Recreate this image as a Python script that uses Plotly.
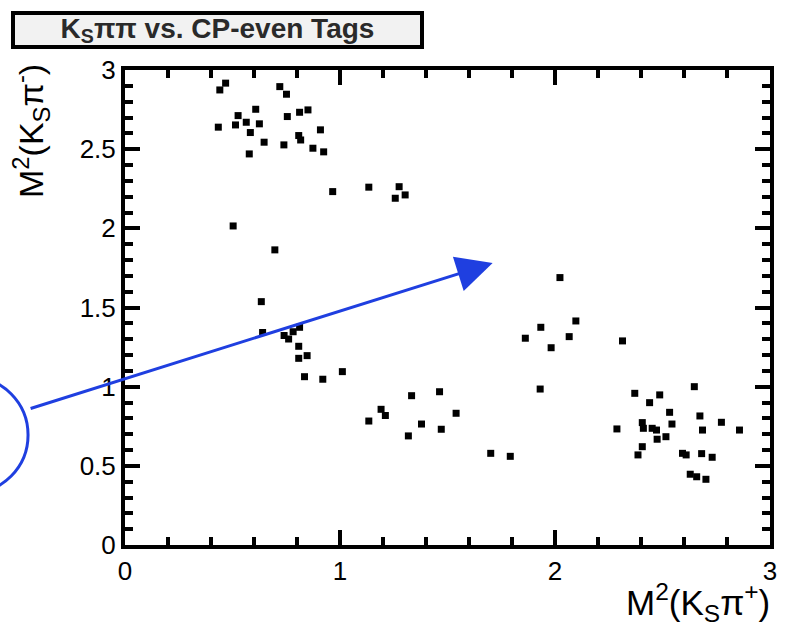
import plotly.graph_objects as go

# Dalitz-plot events: M^2(Ks pi+) vs M^2(Ks pi-) in GeV^2
m2_kspip = [0.468, 0.441, 0.720, 0.751, 0.608, 0.526, 0.514, 0.564, 0.625, 0.434,
            0.583, 0.647, 0.578, 0.739, 0.755, 0.812, 0.851, 0.808, 0.817, 0.909,
            0.874, 0.924, 0.966, 1.134, 1.275, 1.257, 1.303, 0.503, 0.697, 0.634,
            0.640, 0.740, 0.761, 0.812, 0.782, 0.808, 0.808, 0.847, 0.835, 0.920,
            1.011, 1.333, 1.463, 1.191, 1.211, 1.134, 1.540, 1.379, 1.471, 1.318,
            1.701, 1.792, 1.931, 2.023, 2.097, 1.934, 1.862, 2.066, 1.982, 2.314,
            2.648, 2.371, 2.487, 2.440, 2.533, 2.674, 2.406, 2.411, 2.544, 2.774,
            2.452, 2.472, 2.288, 2.686, 2.858, 2.516, 2.475, 2.406, 2.386, 2.593,
            2.610, 2.682, 2.731, 2.629, 2.659, 2.702]
m2_kspim = [2.917, 2.874, 2.895, 2.847, 2.752, 2.712, 2.653, 2.670, 2.660, 2.639,
            2.605, 2.544, 2.470, 2.527, 2.706, 2.733, 2.748, 2.586, 2.558, 2.622,
            2.506, 2.483, 2.232, 2.260, 2.263, 2.190, 2.211, 2.015, 1.864, 1.537,
            1.342, 1.323, 1.301, 1.375, 1.347, 1.255, 1.179, 1.196, 1.063, 1.047,
            1.095, 0.943, 0.968, 0.857, 0.818, 0.783, 0.832, 0.764, 0.731, 0.689,
            0.579, 0.560, 0.985, 1.689, 1.415, 1.375, 1.306, 1.316, 1.246, 1.289,
            1.000, 0.958, 0.948, 0.899, 0.838, 0.815, 0.773, 0.737, 0.764, 0.775,
            0.737, 0.726, 0.733, 0.726, 0.726, 0.684, 0.668, 0.621, 0.569, 0.579,
            0.569, 0.577, 0.554, 0.447, 0.431, 0.415]

x_ticks = [0, 1, 2, 3]
y_ticks = [0, 0.5, 1, 1.5, 2, 2.5, 3]
y_tick_text = ["0", "0.5", "1", "1.5", "2", "2.5", "3"]

W, H = 787, 635
L, R, T, B = 125, 10, 70, 90
PW, PH = W - L - R, H - T - B


def px(xp):
    return (xp - L) / PW


def py(yp):
    return (H - B - yp) / PH


BLUE = "#1f3fe0"
font_main = "Liberation Sans, Arial, sans-serif"

fig = go.Figure()
fig.add_trace(go.Scatter(
    x=m2_kspip, y=m2_kspim, mode="markers",
    marker=dict(symbol="square", size=7, color="black", line=dict(width=0)),
    showlegend=False, hoverinfo="x+y",
))

axis_common = dict(
    showline=True, linecolor="black", linewidth=4, mirror="ticks",
    ticks="inside", ticklen=15, tickwidth=4, tickcolor="black",
    showgrid=False, zeroline=False,
    tickfont=dict(family=font_main, size=26, color="black"),
)

fig.update_xaxes(range=[0, 3], tickvals=x_ticks, ticktext=[str(v) for v in x_ticks],
                 minor=dict(dtick=0.2, ticks="inside", ticklen=8, tickwidth=4,
                            tickcolor="black", showgrid=False),
                 **axis_common)
fig.update_yaxes(range=[0, 3], tickvals=y_ticks, ticktext=y_tick_text,
                 minor=dict(dtick=0.1, ticks="inside", ticklen=8, tickwidth=4,
                            tickcolor="black", showgrid=False),
                 **axis_common)

annotations = [
    # axis titles
    dict(text="M<sup>2</sup>(K<sub>S</sub>π<sup>+</sup>)", xref="paper", yref="paper",
         x=px(779), y=py(576), xanchor="right", yanchor="top", showarrow=False,
         font=dict(family=font_main, size=35, color="black")),
    dict(text="M<sup>2</sup>(K<sub>S</sub>π<sup>-</sup>)", xref="paper", yref="paper",
         x=px(30), y=py(62), xanchor="center", yanchor="top", textangle=-90,
         showarrow=False, font=dict(family=font_main, size=34, color="black")),
    # title box
    dict(text="<b>K<sub>S</sub>ππ vs. CP-even Tags</b>", xref="paper", yref="paper",
         x=px(218), y=py(30), xanchor="center", yanchor="middle", showarrow=False,
         width=405, height=30, bgcolor="#f2f2f2", bordercolor="black", borderwidth=4,
         borderpad=0, font=dict(family=font_main, size=28, color="#2a2a2a")),
    # blue arrow
    dict(x=1.710, y=1.781, xref="x", yref="y", ax=-0.446, ay=0.859, axref="x", ayref="y",
         text="", showarrow=True, arrowhead=2, arrowsize=2.4, arrowwidth=3,
         arrowcolor=BLUE, standoff=0),
]

shapes = [
    dict(type="circle", xref="paper", yref="paper",
         x0=px(-89), x1=px(27), y0=py(493), y1=py(377),
         line=dict(color=BLUE, width=3), fillcolor="rgba(0,0,0,0)"),
]

fig.update_layout(
    width=W, height=H, margin=dict(l=L, r=R, t=T, b=B),
    paper_bgcolor="white", plot_bgcolor="white",
    annotations=annotations, shapes=shapes,
)

fig.write_html("out.html")
